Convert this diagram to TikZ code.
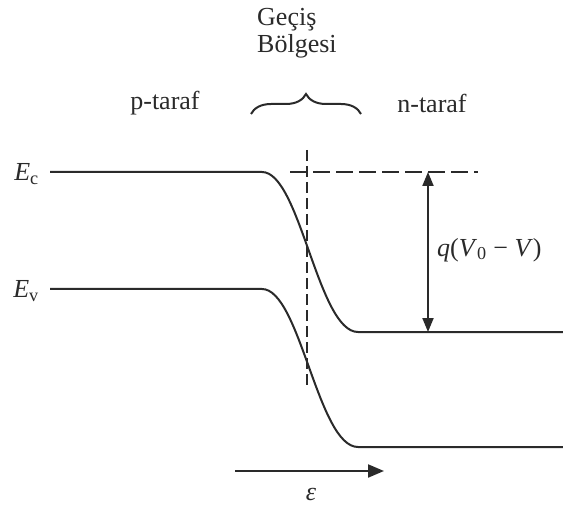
\documentclass[tikz,border=0pt]{standalone}
\usepackage{fontspec}
\setmainfont{Liberation Serif}
\usepackage{tikz}
\usetikzlibrary{arrows.meta,positioning,calc,decorations.pathreplacing}
\definecolor{ink}{HTML}{2A2A2A}
\tikzset{
  band/.style={ink, line width=2pt},
  guide/.style={ink, line width=2pt, dash pattern=on 17pt off 6pt},
  vguide/.style={ink, line width=2pt, dash pattern=on 11pt off 5pt},
  lbl/.style={text=ink, font=\fontsize{26}{27}\selectfont, inner sep=1pt},
}
\begin{document}
\begin{tikzpicture}[x=1pt, y=-1pt]
  \useasboundingbox (0,0) rectangle (563,508);
  % band edges
  \draw[band] (50,172) -- (262,172) .. controls (300,172) and (318,332) .. (358,332) -- (563,332);
  \draw[band] (50,289) -- (262,289) .. controls (300,289) and (318,447) .. (358,447) -- (563,447);
  \node[lbl, anchor=east] (ec) at (40,174) {\textit{E}\textsubscript{c}};
  \node[lbl, anchor=east] (ev) at (40,291) {\textit{E}\textsubscript{v}};
  % guides
  \draw[vguide] (307,150) -- (307,386);
  \draw[guide] (290,172) -- (478,172);
  \coordinate (top) at (428,172);
  \coordinate (bot) at (428,332);
  \draw[ink, line width=2pt, {Triangle[length=14pt,width=11pt]}-{Triangle[length=14pt,width=11pt]}] (top) -- (bot);
  \node[lbl, anchor=west] (drop) at (436,250) {\textit{q}(\textit{V}\textsubscript{0} − \textit{V})};
  % labels on top
  \node[lbl] (ptaraf) at (165,103) {p-taraf};
  \node[lbl] (ntaraf) at (432,103) {n-taraf};
  \node[lbl, align=left, anchor=west] (gecis) at (256,33) {Geçiş\\Bölgesi};
  \coordinate (bl) at (251,114);
  \coordinate (br) at (361,114);
  \draw[ink, line width=2pt, decorate, decoration={brace, amplitude=20pt}] (bl) -- (br);
  % field
  \coordinate (fs) at (235,471);
  \coordinate (fe) at (384,471);
  \draw[ink, line width=2pt, -{Triangle[length=16pt,width=13pt]}] (fs) -- (fe);
  \node[lbl] (field) at (311,494) {\textit{ε}};
\end{tikzpicture}
\end{document}
